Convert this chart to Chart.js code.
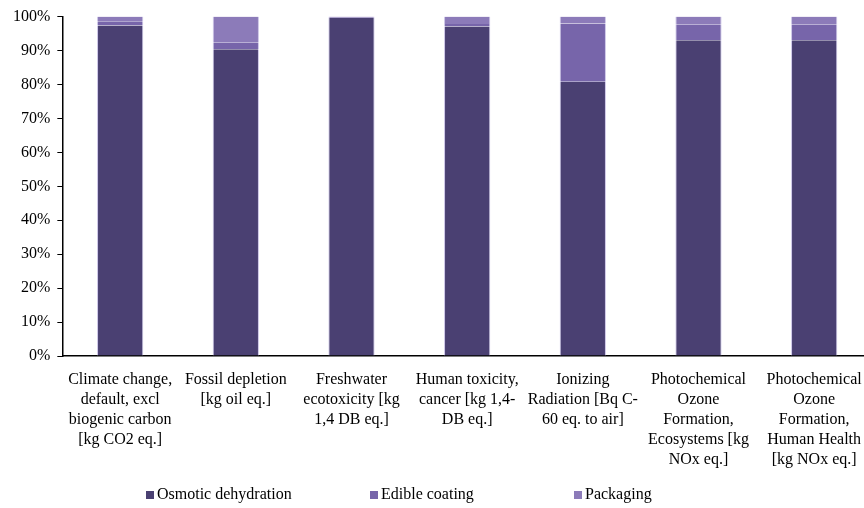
<!DOCTYPE html>
<html>
<head>
<meta charset="utf-8">
<script src="https://cdn.jsdelivr.net/npm/chart.js@4/dist/chart.umd.min.js"></script>
<style>
  html, body { margin: 0; padding: 0; background: #fff; overflow: hidden; }
  #wrap { position: relative; width: 872px; height: 508px; }
</style>
</head>
<body>
<div id="wrap"><canvas id="c" width="872" height="508"></canvas></div>
<script>
// Impact categories (multi-line axis labels)
const categories = [
  ["Climate change,", "default, excl", "biogenic carbon", "[kg CO2 eq.]"],
  ["Fossil depletion", "[kg oil eq.]"],
  ["Freshwater", "ecotoxicity [kg", "1,4 DB eq.]"],
  ["Human toxicity,", "cancer [kg 1,4-", "DB eq.]"],
  ["Ionizing", "Radiation [Bq C-", "60 eq. to air]"],
  ["Photochemical", "Ozone", "Formation,", "Ecosystems [kg", "NOx eq.]"],
  ["Photochemical", "Ozone", "Formation,", "Human Health", "[kg NOx eq.]"]
];

// Contribution of each process stage (%)
const osmoticDehydration = [97.4, 90.4, 99.6, 97.1, 80.8, 93.0, 93.0];
const edibleCoating      = [1.2, 1.9, 0.2, 0.7, 17.2, 4.6, 4.6];
const packaging          = [1.4, 7.7, 0.2, 2.2, 2.0, 2.4, 2.4];

const seriesNames = ["Osmotic dehydration", "Edible coating", "Packaging"];
const seriesColors = ["#4a4072", "#7765aa", "#8c7bb9"];

const serif = "'Liberation Serif', 'Times New Roman', serif";

// Legend drawn below the plot, items spread across the width
const spreadLegend = {
  id: "spreadLegend",
  afterDraw(chart) {
    const ctx = chart.ctx;
    const xs = [146, 370, 574];
    const y = 495;
    ctx.save();
    ctx.font = "16px " + serif;
    ctx.textBaseline = "middle";
    chart.data.datasets.forEach((ds, i) => {
      ctx.fillStyle = ds.backgroundColor;
      ctx.fillRect(xs[i], y - 4, 8, 8);
      ctx.fillStyle = "#000";
      ctx.fillText(ds.label, xs[i] + 11, y);
    });
    ctx.restore();
  }
};

const sideBorder = { left: 1, right: 1, top: 0, bottom: 0 };

new Chart(document.getElementById("c"), {
  type: "bar",
  data: {
    labels: categories,
    datasets: [
      { label: seriesNames[0], data: osmoticDehydration, backgroundColor: seriesColors[0] },
      { label: seriesNames[1], data: edibleCoating, backgroundColor: seriesColors[1] },
      { label: seriesNames[2], data: packaging, backgroundColor: seriesColors[2] }
    ].map(d => Object.assign(d, {
      borderColor: "rgba(200,192,228,0.9)",
      borderWidth: sideBorder,
      borderSkipped: false,
      categoryPercentage: 1.0,
      barPercentage: 0.4
    }))
  },
  options: {
    responsive: false,
    animation: false,
    layout: { padding: { left: 6, right: 0, top: 6, bottom: 32 } },
    plugins: {
      legend: { display: false },
      tooltip: { enabled: false }
    },
    scales: {
      x: {
        stacked: true,
        grid: { display: false },
        border: { display: true, color: "#000", width: 1.5 },
        ticks: {
          color: "#000",
          font: { family: serif, size: 16, lineHeight: 1.25 },
          maxRotation: 0,
          autoSkip: false,
          padding: 6
        }
      },
      y: {
        stacked: true,
        min: 0,
        max: 100,
        grid: { display: true, drawOnChartArea: false, drawTicks: true, tickLength: 5, color: "#000", lineWidth: 1 },
        border: { display: true, color: "#000", width: 1.5 },
        ticks: {
          stepSize: 10,
          color: "#000",
          font: { family: serif, size: 16 },
          padding: 7,
          callback: v => v + "%"
        }
      }
    }
  },
  plugins: [spreadLegend]
});
</script>
</body>
</html>
